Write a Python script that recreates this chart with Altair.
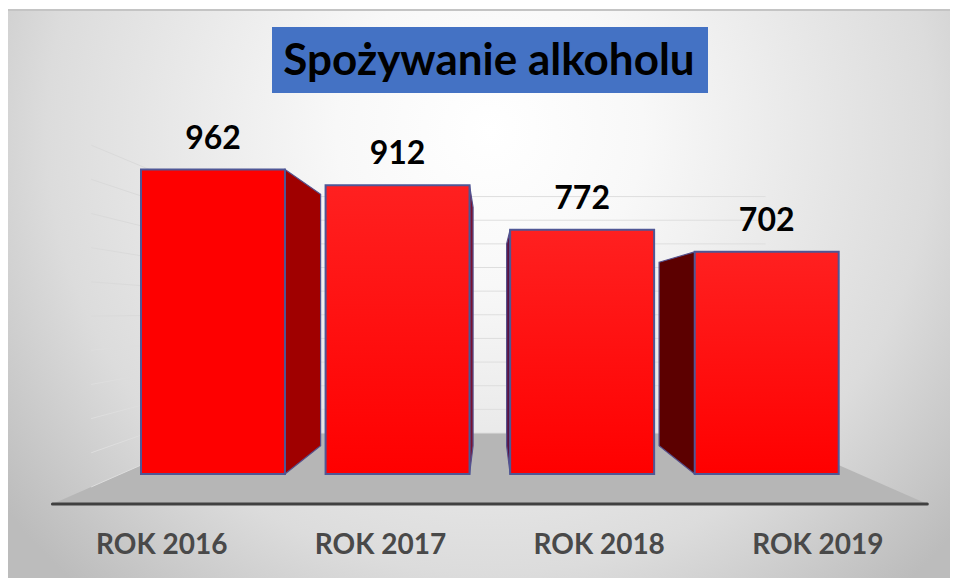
import altair as alt
import pandas as pd

categories = ["ROK 2016", "ROK 2017", "ROK 2018", "ROK 2019"]
values = [962, 912, 772, 702]
grid_values = [0, 100, 200, 300, 400, 500, 600, 700, 800, 900, 1000]
side_shades = ["#a00000", "#7a1030", "#5a1040", "#5c0000"]
title_text = "Spożywanie alkoholu"

# simple one-point perspective used by the original 3D chart
VX, VV = 1.5, 512
F_FRONT, F_BAR_BACK, F_WALL = 1.185, 0.826, 0.747
F_WALL_FADE = 1.08
HALF = 0.39
WALL_X = 2.0

def px(X, f):
    return VX + f * X

def pv(v, f):
    return VV + f * (v - VV)

x_s = alt.Scale(domain=[-0.5, 3.5], range=[112.7, 851], zero=False, nice=False)
y_s = alt.Scale(domain=[0, 1000], range=[466, 149.5], zero=False, nice=False)
X = lambda f="x": alt.X(f"{f}:Q", scale=x_s, axis=None)
Y = lambda f="y": alt.Y(f"{f}:Q", scale=y_s, axis=None)

bars = pd.DataFrame({
    "cat": categories, "v": values,
    "x0": [i - HALF for i in range(4)], "x1": [i + HALF for i in range(4)],
    "xc": list(range(4)), "zero": [0] * 4,
})

# background
bg = alt.Chart(pd.DataFrame({"a": [0]})).mark_rect(
    color=alt.RadialGradient(
        gradient="radial", x1=0.51, y1=0.11, r1=0, x2=0.51, y2=0.11, r2=0.56,
        stops=[alt.GradientStop(offset=0, color="#ffffff"),
               alt.GradientStop(offset=0.25, color="#f8f8f8"),
               alt.GradientStop(offset=0.72, color="#dcdcdc"),
               alt.GradientStop(offset=1, color="#bcbcbc")])
).encode(x=alt.value(0), x2=alt.value(942), y=alt.value(2), y2=alt.value(1100))
top_edge = alt.Chart(pd.DataFrame({"a": [0]})).mark_rule(color="#c4c4c4", strokeWidth=2).encode(
    x=alt.value(0), x2=alt.value(942), y=alt.value(2))

# floor
fl = pd.DataFrame([
    {"x": px(-WALL_X, F_FRONT), "y": pv(0, F_FRONT), "y2": pv(0, F_FRONT)},
    {"x": px(-WALL_X, F_WALL), "y": pv(0, F_WALL), "y2": pv(0, F_FRONT)},
    {"x": px(WALL_X, F_WALL), "y": pv(0, F_WALL), "y2": pv(0, F_FRONT)},
    {"x": px(WALL_X, F_FRONT), "y": pv(0, F_FRONT), "y2": pv(0, F_FRONT)},
])
floor = alt.Chart(fl).mark_area(color="#b6b6b6", interpolate="linear").encode(
    x=X(), y=Y(), y2="y2:Q")

# gridlines
back = pd.DataFrame({"y": [pv(g, F_WALL) for g in grid_values],
                     "x": px(-WALL_X, F_WALL), "x2": px(WALL_X, F_WALL)})
grid_back = alt.Chart(back).mark_rule(color="#dedede", strokeWidth=1).encode(
    x=X(), x2="x2:Q", y=Y())
wall = pd.DataFrame(
    [{"g": g, "o": k, "x": px(-WALL_X, f), "y": pv(g, f)}
     for g in grid_values for k, f in enumerate([F_WALL, F_WALL_FADE])])
grid_wall_hi = alt.Chart(wall[wall.g >= 500]).mark_line(color="#dadada", strokeWidth=1).encode(
    x=X(), y=Y(), detail="g:N", order="o:Q")
grid_wall_lo = alt.Chart(wall[wall.g < 500]).mark_line(color="#dedede", strokeWidth=1).encode(
    x=X(), y=Y(), detail="g:N", order="o:Q")

# side faces of the columns
side_layers = []
for i, v in enumerate(values):
    edge = i - HALF if i >= 2 else i + HALF
    pts = [{"x": px(edge - VX, f), "y": pv(v, f), "y2": pv(0, f)} for f in [1, F_BAR_BACK]]
    side_layers.append(
        alt.Chart(pd.DataFrame(pts)).mark_area(
            color=side_shades[i], interpolate="linear", stroke="#55508c", strokeWidth=1.2
        ).encode(x=X(), y=Y(), y2="y2:Q")
    )

# front faces
front_a = alt.Chart(bars.iloc[[0]]).mark_rect(color="#fe0000", stroke="#4f5796", strokeWidth=2).encode(
    x=X("x0"), x2="x1:Q", y=Y("v"), y2="zero:Q")
front_b = alt.Chart(bars.iloc[1:]).mark_rect(
    color=alt.LinearGradient(gradient="linear", x1=0, y1=0, x2=0, y2=1,
                             stops=[alt.GradientStop(offset=0, color="#ff2020"),
                                    alt.GradientStop(offset=1, color="#ff0000")]),
    stroke="#4f5796", strokeWidth=2
).encode(x=X("x0"), x2="x1:Q", y=Y("v"), y2="zero:Q")

value_labels = alt.Chart(bars).mark_text(
    font="Lato", fontWeight="bold", fontSize=32, color="#000000", baseline="alphabetic", dy=-21
).encode(x=X("xc"), y=Y("v"), text="v:N")

# floor front line
axis_line = alt.Chart(pd.DataFrame({
    "x": [px(-WALL_X, F_FRONT)], "x2": [px(WALL_X, F_FRONT)], "y": [pv(0, F_FRONT)]
})).mark_rule(color="#404040", strokeWidth=3, strokeCap="round").encode(
    x=X(), x2="x2:Q", y=Y())

cat_df = pd.DataFrame({"cat": categories, "x": [px(i - VX, F_FRONT) for i in range(4)]})
cat_labels = alt.Chart(cat_df).mark_text(
    font="Lato", fontWeight="bold", fontSize=28, color="#494949", baseline="alphabetic"
).encode(x=X(), y=alt.value(546), text="cat:N")

title_box = alt.Chart(pd.DataFrame({"a": [0]})).mark_rect(color="#4472c4").encode(
    x=alt.value(264), x2=alt.value(700), y=alt.value(19), y2=alt.value(85))
title = alt.Chart(pd.DataFrame({"t": [title_text]})).mark_text(
    font="Lato", fontWeight="bold", fontSize=44, color="#000000", baseline="alphabetic"
).encode(x=alt.value(481), y=alt.value(67), text="t:N")

chart = alt.layer(
    bg, top_edge, floor, grid_back, grid_wall_hi, grid_wall_lo, *side_layers, front_a, front_b,
    value_labels, axis_line, cat_labels, title_box, title
).properties(
    width=942, height=570, padding=0, autosize=alt.AutoSizeParams(type="none"),
    background="white"
).configure_view(stroke=None)

chart.save("out.html", embed_options={"renderer": "svg", "actions": False})
